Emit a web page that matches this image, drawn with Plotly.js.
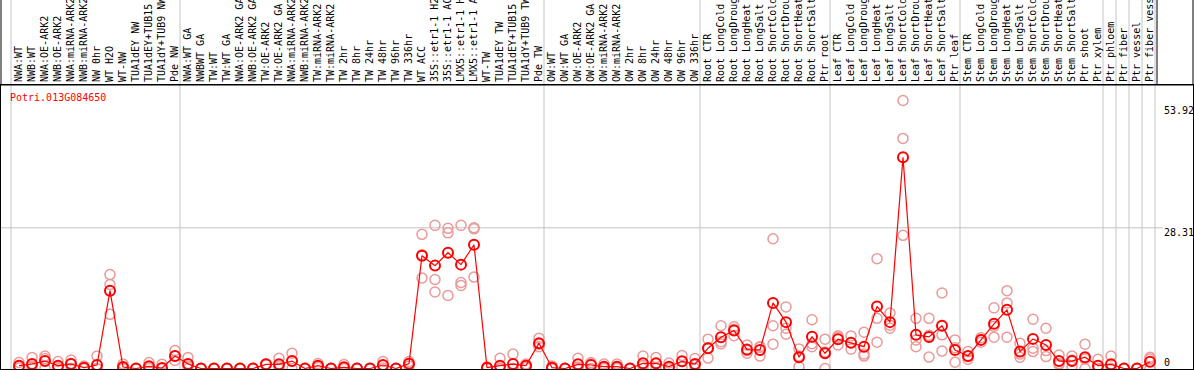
<!DOCTYPE html>
<html>
<head>
<meta charset="utf-8">
<script src="https://cdn.plot.ly/plotly-3.0.1.min.js"></script>
<style>html,body{margin:0;padding:0;background:#fff;}#chart{width:1194px;height:370px;}</style>
</head>
<body>
<div id="chart"></div>
<script>
const geneId = "Potri.013G084650";

const categories = [
"NWA:WT","NWB:WT","NWA:OE-ARK2","NWB:OE-ARK2","NWA:miRNA-ARK2","NWB:miRNA-ARK2","NW 0hr","WT H2O","WT-NW","TUA1dEY NW",
"TUA1dEY+TUB15 NW","TUA1dY+TUB9 NW","Pde NW",
"NWA:WT GA","NWBWT GA","TW:WT","TW:WT GA","NWA:OE-ARK2 GA","NWB:OE-ARK2 GA","TW:OE-ARK2","TW:OE-ARK2 GA","NWA:miRNA-ARK2 GA","NWB:miRNA-ARK2 GA",
"TW:miRNA-ARK2","TW:miRNA-ARK2 GA","TW 2hr","TW 8hr","TW 24hr","TW 48hr","TW 96hr","TW 336hr","WT ACC",
"35S::etr1-1 H2O","35S::etr1-1 ACC","LMX5::etr1-1 H2O","LMX5::etr1-1 ACC","WT-TW","TUA1dEY TW","TUA1dEY+TUB15 TW","TUA1dY+TUB9 TW","Pde TW",
"OW:WT","OW:WT GA","OW:OE-ARK2","OW:OE-ARK2 GA","OW:miRNA-ARK2","OW:miRNA-ARK2 GA","OW 2hr","OW 8hr","OW 24hr","OW 48hr","OW 96hr","OW 336hr",
"Root CTR","Root LongCold","Root LongDrought","Root LongHeat","Root LongSalt","Root ShortCold","Root ShortDrought","Root ShortHeat","Root ShortSalt","Ptr root",
"Leaf CTR","Leaf LongCold","Leaf LongDrought","Leaf LongHeat","Leaf LongSalt","Leaf ShortCold","Leaf ShortDrought","Leaf ShortHeat","Leaf ShortSalt","Ptr leaf",
"Stem CTR","Stem LongCold","Stem LongDrought","Stem LongHeat","Stem LongSalt","Stem ShortCold","Stem ShortDrought","Stem ShortHeat","Stem ShortSalt","Ptr shoot",
"Ptr xylem","Ptr phloem","Ptr fiber","Ptr vessel","Ptr fiber vessel"
];

// first category index of each group (separator lines drawn before them), last = end
const groupStarts = [0, 13, 41, 53, 63, 73, 84, 85, 86, 87, 88];

const means = [
0.57,0.91,1.5,0.57,0.9,0.17,0.7,15.66,0.3,0,
0.44,0.1,2.5,
0.9,0,0,0,0,0,0.84,0.84,1.5,0,
0.57,0,0.24,0,0,0.7,0,0.97,22.7,
20.7,23.3,20.9,24.9,0.17,0.57,0.9,0.57,5.1,
0.17,0,0.84,0.7,0.37,0.37,0,1.05,1.05,0.37,1.45,0.9,
4.08,6.3,7.64,3.8,3.74,13.2,9.33,2.26,6.4,3.07,
5.9,5.2,4.4,12.5,9.33,42.5,6.77,6.36,8.59,3.74,
2.53,5.76,8.99,11.8,3.4,5.96,4.75,1.5,1.5,2.26,
0.57,0.84,0,0,1.37
];

const rep1 = [
1.2,2.2,2.5,1.4,1.7,0.5,2.5,18.9,0.9,0,
1.2,0.85,3.6,
2.2,0,0,0,0,0,0.9,2.05,3.07,0,
1.0,0,0.8,0,0,1.4,0,1.4,27.0,
28.8,28.2,28.8,28.3,0.3,2.06,2.9,0.9,6.1,
0.5,0,2.06,1.2,0.9,0.9,0,2.5,2.2,1.1,2.6,2.0,
5.9,8.6,8.4,4.75,4.4,26.1,12.4,3.94,9.8,5.9,
6.6,6.56,7.3,22.1,11.15,53.92,10.1,10.1,15.2,5.76,
3.4,6.2,12.2,15.66,5.1,9.9,8.1,2.7,2.5,4.9,
1.86,2.5,0,0,2.26
];

const rep2 = [
0.4,0.5,2.0,0.3,1.0,0,0,16.9,0,0,
0.3,0,2.5,
0.5,0,0,0,0,0,0.8,0.5,1.5,0,
0.5,0,0,0,0,0.6,0,1.0,22.9,
17.9,27.3,17.3,28.1,0.2,0,0,0.6,4.9,
0,0,0.3,0.9,0.2,0.2,0,0.6,1.0,0,1.4,0.7,
4.2,5.4,7.9,3.6,4.3,8.6,8.1,2.5,5.0,3.3,
6.3,5.2,2.9,10.1,8.7,46.3,5.76,6.7,6.77,4.2,
2.4,5.8,8.5,13.2,2.9,4.1,3.6,1.0,1.7,1.9,
0,0,0,0,1.9
];

const rep3 = [
0.1,0,0,0,0,0,0,10.9,0,0,
0,0,1.6,
0,0,0,0,0,0,0.8,0,0,0,
0.2,0,0,0,0,0.1,0,0.5,18.2,
15.4,14.7,16.7,18.4,0,0,0,0.2,4.4,
0,0,0,0,0,0,0,0,0,0,0.3,0,
2.1,4.95,6.6,3.07,2.5,4.9,6.9,0.36,4.4,0,
4.75,3.9,2.5,5.3,8.1,26.8,4.4,2.3,3.5,1.25,
1.86,5.3,6.3,6.3,2.26,3.4,2.4,0.8,0.4,0,
0,0,0,0,0
];

const yMarks = [53.92, 28.31, 0];

const idx = categories.map((_, i) => i);

const repX = [], repY = [];
[rep1, rep2, rep3].forEach(r => r.forEach((v, i) => { repX.push(i); repY.push(v); }));

const traces = [
  {
    x: repX, y: repY, type: 'scatter', mode: 'markers', hoverinfo: 'skip',
    marker: {symbol: 'circle-open', size: 10, color: '#eb9a9a', line: {width: 1.5, color: '#eb9a9a'}}
  },
  {
    x: idx, y: means, type: 'scatter', mode: 'lines+markers',
    line: {color: '#ff0000', width: 1.2},
    marker: {symbol: 'circle-open', size: 10, color: '#ff0000', line: {width: 2, color: '#ff0000'}}
  }
];

const W = 1194, H = 370, ml = 1, mr = 1, mt = 85, mb = 1;
const pw = W - ml - mr, ph = H - mt - mb;
const px = p => (p - ml) / pw;          // pixel x -> paper
const py = p => 1 - (p - mt) / ph;      // pixel y -> paper

const shapes = [];
groupStarts.forEach(k => {
  shapes.push({type: 'line', xref: 'x', yref: 'paper', x0: k - 0.615, x1: k - 0.615, y0: 0, y1: py(0),
    line: {color: '#c4c4c4', width: 1}, layer: 'below'});
});
shapes.push({type: 'line', xref: 'paper', yref: 'y', x0: 0, x1: px(1163), y0: yMarks[1], y1: yMarks[1],
  line: {color: '#c4c4c4', width: 1}, layer: 'below'});
// frame pieces in label band
shapes.push({type: 'line', xref: 'paper', yref: 'paper', x0: px(1157), x1: px(1157), y0: 1, y1: py(0), line: {color: '#000', width: 1}});
shapes.push({type: 'line', xref: 'paper', yref: 'paper', x0: 0, x1: 0, y0: 1, y1: py(0), line: {color: '#000', width: 1}});
shapes.push({type: 'line', xref: 'paper', yref: 'paper', x0: 1, x1: 1, y0: 1, y1: py(0), line: {color: '#000', width: 1}});
shapes.push({type: 'line', xref: 'paper', yref: 'paper', x0: px(0), x1: 1, y0: 1, y1: 1, line: {color: '#000', width: 1}});

const mono = 'DejaVu Sans Mono, Liberation Mono, monospace';
const annotations = [
  {text: geneId, xref: 'paper', yref: 'paper', x: px(8), y: py(97.5), xanchor: 'left', yanchor: 'middle',
   showarrow: false, font: {family: mono, size: 10, color: '#ff0000'}},
  {text: String(yMarks[0]), xref: 'paper', yref: 'paper', x: px(1162), y: py(110), xanchor: 'left', yanchor: 'middle',
   showarrow: false, font: {family: mono, size: 10, color: '#000'}},
  {text: String(yMarks[1]), xref: 'paper', yref: 'paper', x: px(1162), y: py(232.5), xanchor: 'left', yanchor: 'middle',
   showarrow: false, font: {family: mono, size: 10, color: '#000'}},
  {text: String(yMarks[2]), xref: 'paper', yref: 'paper', x: px(1162), y: py(362), xanchor: 'left', yanchor: 'middle',
   showarrow: false, font: {family: mono, size: 10, color: '#000'}}
];

const layout = {
  width: W, height: H,
  margin: {l: ml, r: mr, t: mt, b: mb, pad: 0},
  paper_bgcolor: '#ffffff', plot_bgcolor: 'rgba(0,0,0,0)',
  showlegend: false,
  xaxis: {
    range: [-18/13, -18/13 + pw/13], side: 'top', tickmode: 'array', tickvals: idx, ticktext: categories,
    tickangle: -90, tickfont: {family: mono, size: 10, color: '#000'}, ticks: '',
    showgrid: false, zeroline: false, showline: true, mirror: true, linecolor: '#000', linewidth: 1,
    automargin: false, fixedrange: true
  },
  yaxis: {
    range: [-0.1, -0.1 + ph / 4.97], showticklabels: false, showgrid: false, zeroline: false,
    showline: true, mirror: true, linecolor: '#000', linewidth: 1, automargin: false, fixedrange: true
  },
  shapes: shapes,
  annotations: annotations
};

Plotly.newPlot('chart', traces, layout, {staticPlot: true, displayModeBar: false});
</script>
</body>
</html>
